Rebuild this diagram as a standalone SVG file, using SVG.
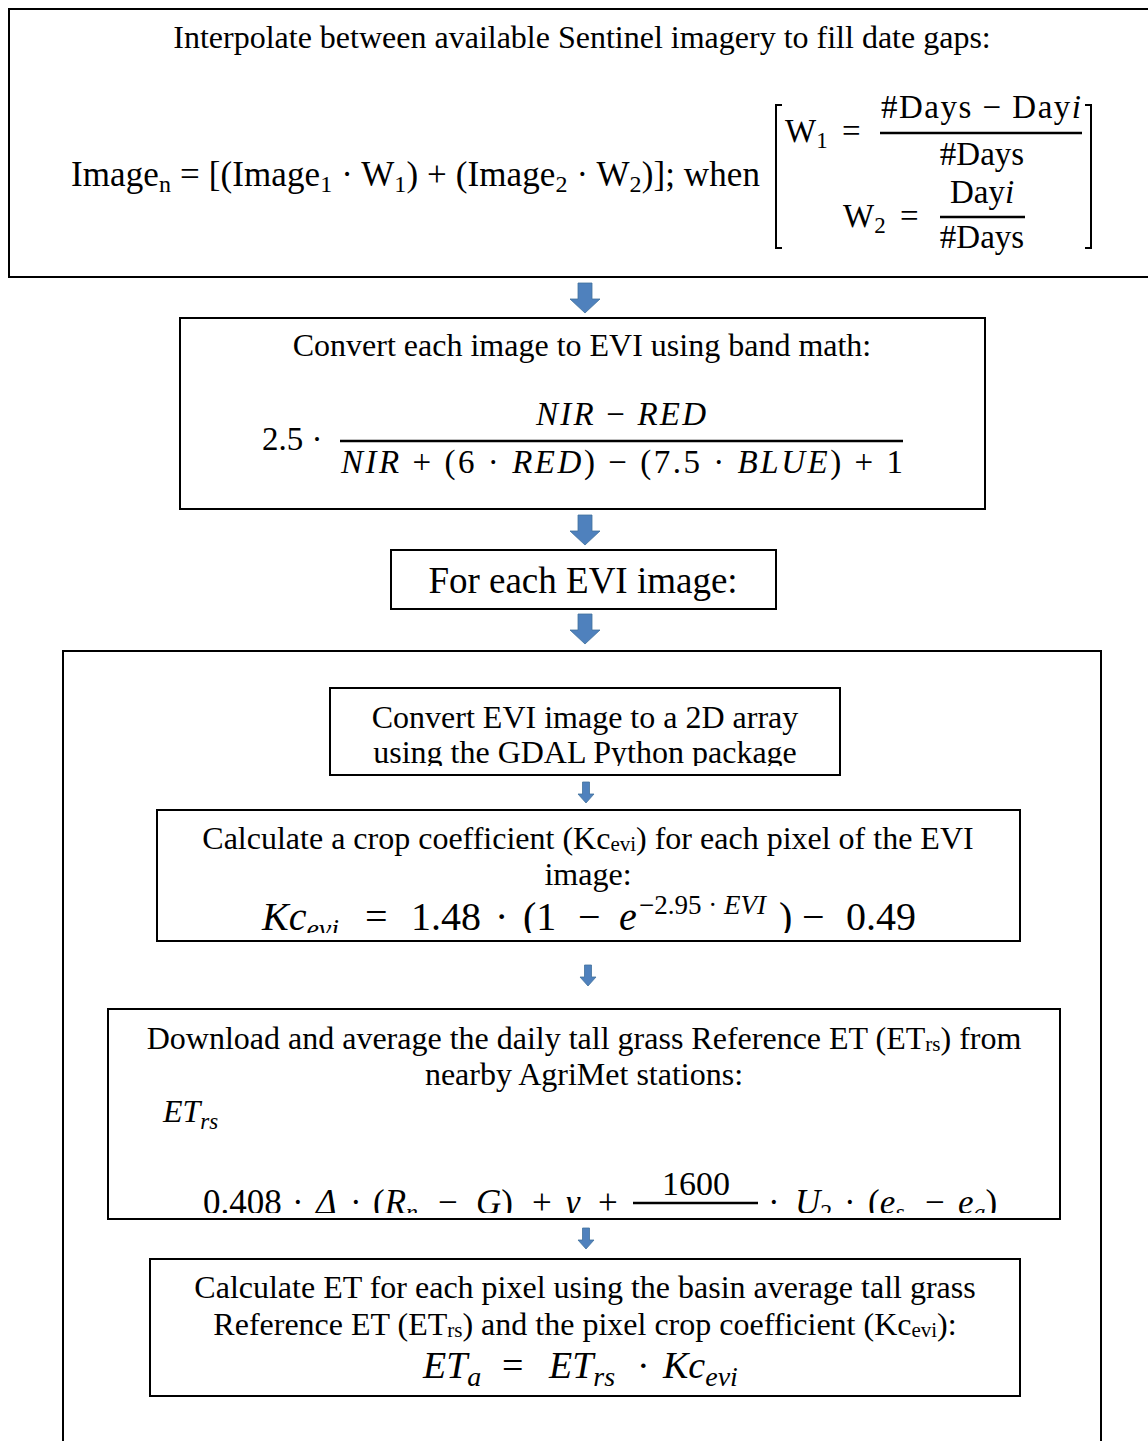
<svg xmlns="http://www.w3.org/2000/svg" width="1148" height="1441" viewBox="0 0 1148 1441">
<defs>
<style>
.box{fill:#fff;stroke:#000;stroke-width:2}
.t{font-family:"Liberation Serif","Times New Roman",serif;font-size:32px;fill:#000}
.m{font-family:"Liberation Serif","Times New Roman",serif;fill:#000}
.i{font-style:italic}
.arr{fill:#4F81BD;stroke:#41719C;stroke-width:0.8}
.fl{stroke:#000;stroke-width:2.5}
.br{fill:none;stroke:#000;stroke-width:2}
</style>
<clipPath id="c3"><rect x="392" y="551" width="383" height="57"/></clipPath>
<clipPath id="c4"><rect x="331" y="689" width="508" height="77"/></clipPath>
<clipPath id="c5"><rect x="158" y="811" width="861" height="122"/></clipPath>
<clipPath id="c6"><rect x="109" y="1010" width="950" height="203"/></clipPath>
</defs>

<g id="node-interpolate">
<rect class="box" x="9" y="9" width="1150" height="268"/>
<text class="t" x="582" y="48" text-anchor="middle">Interpolate between available Sentinel imagery to fill date gaps:</text>
<text class="m" x="71" y="186" font-size="35" textLength="689" lengthAdjust="spacing">Image<tspan font-size="24" dy="6">n</tspan><tspan dy="-6"> = [(Image</tspan><tspan font-size="24" dy="6">1</tspan><tspan dy="-6"> · W</tspan><tspan font-size="24" dy="6">1</tspan><tspan dy="-6">) + (Image</tspan><tspan font-size="24" dy="6">2</tspan><tspan dy="-6"> · W</tspan><tspan font-size="24" dy="6">2</tspan><tspan dy="-6">)]; when</tspan></text>
<path class="br" d="M782,105 H776 V248 H782"/>
<path class="br" d="M1085,105 H1091 V248 H1085"/>
<text class="m" x="785" y="142" font-size="33">W<tspan font-size="23" dy="6">1</tspan></text>
<text class="m" x="842" y="142" font-size="33">=</text>
<line class="fl" x1="880" y1="133" x2="1082" y2="133"/>
<text class="m" x="981" y="118" font-size="33" text-anchor="middle" textLength="200" lengthAdjust="spacing">#Days − Day<tspan class="i">i</tspan></text>
<text class="m" x="982" y="165" font-size="33" text-anchor="middle">#Days</text>
<text class="m" x="843" y="227" font-size="33">W<tspan font-size="23" dy="6">2</tspan></text>
<text class="m" x="900" y="227" font-size="33">=</text>
<line class="fl" x1="940" y1="217" x2="1025" y2="217"/>
<text class="m" x="982" y="203" font-size="33" text-anchor="middle">Day<tspan class="i">i</tspan></text>
<text class="m" x="982" y="248" font-size="33" text-anchor="middle">#Days</text>
</g>

<g id="node-evi">
<rect class="box" x="180" y="318" width="805" height="191"/>
<text class="t" x="582" y="356" text-anchor="middle">Convert each image to EVI using band math:</text>
<text class="m" x="262" y="450" font-size="33">2.5  ·</text>
<line class="fl" x1="340" y1="441" x2="903" y2="441"/>
<text class="m" x="621" y="425" font-size="33" text-anchor="middle" textLength="170" lengthAdjust="spacing"><tspan class="i">NIR</tspan> − <tspan class="i">RED</tspan></text>
<text class="m" x="341" y="473" font-size="33" textLength="562" lengthAdjust="spacing"><tspan class="i">NIR</tspan> + (6 · <tspan class="i">RED</tspan>) − (7.5 · <tspan class="i">BLUE</tspan>) + 1</text>
</g>

<g id="node-foreach">
<rect class="box" x="391" y="550" width="385" height="59"/>
<text class="t" x="583" y="593" text-anchor="middle" style="font-size:37px" clip-path="url(#c3)">For each EVI image:</text>
</g>

<g id="node-loop">
<rect class="box" x="63" y="651" width="1038" height="800"/>
</g>

<g id="node-array">
<rect class="box" x="330" y="688" width="510" height="87"/>
<g clip-path="url(#c4)">
<text class="t" x="585" y="728" text-anchor="middle">Convert EVI image to a 2D array</text>
<text class="t" x="585" y="763" text-anchor="middle">using the GDAL Python package</text>
</g>
</g>

<g id="node-kc">
<rect class="box" x="157" y="810" width="863" height="131"/>
<g clip-path="url(#c5)">
<text class="t" x="588" y="849" text-anchor="middle">Calculate a crop coefficient (Kc<tspan font-size="21" dy="2">evi</tspan><tspan dy="-2">) for each pixel of the EVI</tspan></text>
<text class="t" x="588" y="885" text-anchor="middle">image:</text>
<text class="m" y="930" font-size="40"><tspan class="i" x="262">Kc</tspan><tspan class="i" font-size="28" dy="8">evi</tspan><tspan x="365" dy="-8">=</tspan><tspan x="411">1.48</tspan><tspan x="495">·</tspan><tspan x="523">(1</tspan><tspan x="578">−</tspan><tspan class="i" x="619">e</tspan><tspan font-size="27" dy="-16" x="639">−2.95 · </tspan><tspan font-size="27" class="i">EVI</tspan><tspan dy="16" x="779">)</tspan><tspan x="802">−</tspan><tspan x="846">0.49</tspan></text>
</g>
</g>

<g id="node-etrs">
<rect class="box" x="108" y="1009" width="952" height="210"/>
<g clip-path="url(#c6)">
<text class="t" x="584" y="1049" text-anchor="middle">Download and average the daily tall grass Reference ET (ET<tspan font-size="21" dy="2">rs</tspan><tspan dy="-2">) from</tspan></text>
<text class="t" x="584" y="1085" text-anchor="middle">nearby AgriMet stations:</text>
<text class="m i" x="163" y="1122" font-size="32">ET<tspan font-size="23" dy="7">rs</tspan></text>
<text class="m" x="696" y="1195" font-size="34" text-anchor="middle">1600</text>
<line class="fl" x1="633" y1="1203" x2="758" y2="1203"/>
<text class="m" y="1214" font-size="35"><tspan x="203">0.408</tspan><tspan x="292">·</tspan><tspan class="i" x="316">Δ</tspan><tspan x="350">·</tspan><tspan x="373">(</tspan><tspan class="i">R</tspan><tspan class="i" font-size="24" dy="6">n</tspan><tspan x="438" dy="-6">−</tspan><tspan class="i" x="476">G</tspan><tspan>)</tspan><tspan x="532">+</tspan><tspan class="i" x="566">γ</tspan><tspan x="598">+</tspan><tspan x="768">·</tspan><tspan class="i" x="795">U</tspan><tspan font-size="24" dy="6">2</tspan><tspan x="844" dy="-6">·</tspan><tspan x="868">(</tspan><tspan class="i">e</tspan><tspan class="i" font-size="24" dy="6">s</tspan><tspan x="925" dy="-6">−</tspan><tspan class="i" x="958">e</tspan><tspan class="i" font-size="24" dy="6">a</tspan><tspan dy="-6">)</tspan></text>
<text class="m" x="640" y="1238" font-size="35"><tspan class="i">T</tspan>  +  273</text>
</g>
</g>

<g id="node-eta">
<rect class="box" x="150" y="1259" width="870" height="137"/>
<text class="t" x="585" y="1298" text-anchor="middle">Calculate ET for each pixel using the basin average tall grass</text>
<text class="t" x="585" y="1335" text-anchor="middle">Reference ET (ET<tspan font-size="21" dy="2">rs</tspan><tspan dy="-2">) and the pixel crop coefficient (Kc</tspan><tspan font-size="21" dy="2">evi</tspan><tspan dy="-2">):</tspan></text>
<text class="m" y="1378" font-size="38"><tspan class="i" x="423">ET</tspan><tspan class="i" font-size="28" dy="8">a</tspan><tspan x="502" dy="-8">=</tspan><tspan class="i" x="549">ET</tspan><tspan class="i" font-size="28" dy="8">rs</tspan><tspan x="637" dy="-8">·</tspan><tspan class="i" x="663">Kc</tspan><tspan class="i" font-size="28" dy="8">evi</tspan></text>
</g>

<g id="connectors">
<path class="arr" d="M578,283 H592 V299 H600 L585,313 L570,299 H578 Z"/>
<path class="arr" d="M578,515 H592 V531 H600 L585,545 L570,531 H578 Z"/>
<path class="arr" d="M578,614 H592 V630 H600 L585,644 L570,630 H578 Z"/>
<path class="arr" d="M582.5,782 H589.5 V794 H594 L586,803 L578,794 H582.5 Z"/>
<path class="arr" d="M584.5,965 H591.5 V977 H596 L588,986 L580,977 H584.5 Z"/>
<path class="arr" d="M582.5,1228 H589.5 V1240 H594 L586,1249 L578,1240 H582.5 Z"/>
</g>
</svg>
